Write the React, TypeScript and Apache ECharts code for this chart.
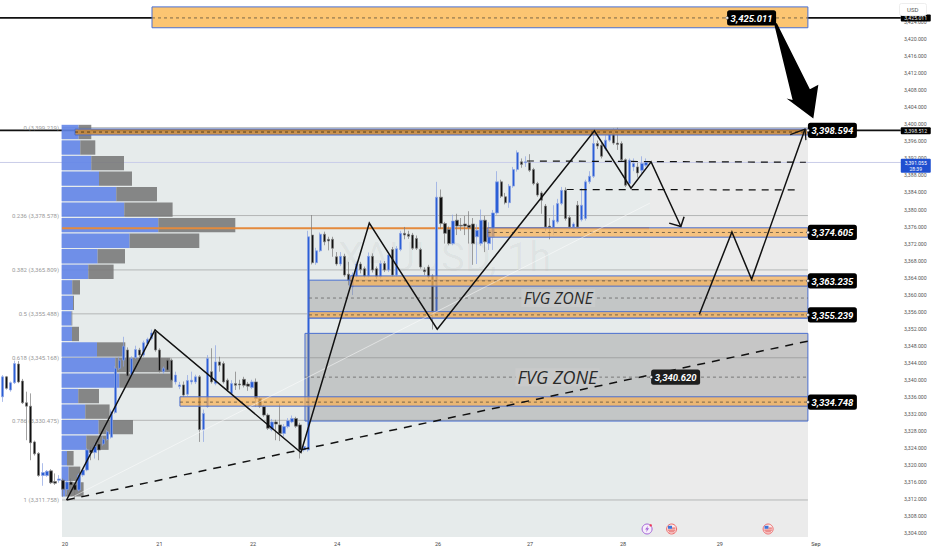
import React, { useEffect, useRef } from "react";
import * as echarts from "echarts";

// ---- price data: [open, close, low, high], one row per hourly bar
const candleRows: number[][] = [
[3336.0,3340.7,3334.8,3341.1],[3340.7,3338.0,3337.7,3340.9],[3337.6,3339.3,3337.2,3339.6],[3339.3,3343.8,3339.0,3344.5],
[3343.7,3339.5,3339.2,3344.4],[3339.7,3334.6,3334.3,3340.2],[3334.6,3333.8,3325.8,3337.2],[3333.8,3325.2,3321.1,3336.8],
[3325.4,3322.6,3322.2,3325.7],[3322.7,3317.5,3317.2,3323.0],[3317.5,3318.2,3315.1,3320.4],[3317.5,3318.5,3317.2,3318.8],
[3318.6,3315.8,3315.5,3319.0],[3316.1,3315.7,3315.3,3318.0],[3316.4,3316.7,3315.8,3317.6],[3316.4,3314.3,3312.5,3316.8],
[3314.2,3316.0,3313.0,3316.5],[3316.0,3315.3,3314.5,3316.8],[3315.3,3314.1,3311.8,3315.7],[3314.1,3317.6,3313.8,3318.0],
[3317.6,3318.8,3317.2,3319.2],[3318.8,3323.5,3318.5,3324.0],[3323.5,3322.9,3321.1,3324.3],[3322.9,3324.3,3321.5,3325.0],
[3324.9,3323.5,3321.1,3326.2],[3324.9,3326.0,3324.5,3326.7],[3326.0,3327.8,3325.7,3328.2],[3326.5,3332.5,3326.2,3333.0],
[3332.3,3342.7,3332.0,3343.2],[3342.7,3344.6,3342.3,3345.4],[3344.6,3347.9,3343.1,3350.1],[3347.0,3340.9,3340.5,3347.6],
[3341.1,3345.0,3340.7,3345.5],[3345.2,3347.1,3344.9,3348.0],[3347.0,3345.8,3345.3,3347.5],[3345.8,3348.7,3345.4,3349.2],
[3348.5,3349.5,3348.1,3349.9],[3349.7,3351.0,3349.3,3351.8],[3351.3,3347.0,3346.6,3351.9],[3347.0,3342.1,3341.7,3347.4],
[3341.9,3342.7,3341.4,3343.1],[3344.6,3342.3,3341.9,3345.0],[3344.6,3339.9,3339.5,3345.0],[3339.5,3341.1,3338.9,3341.9],
[3338.4,3338.8,3337.8,3339.5],[3338.8,3336.4,3336.0,3339.6],[3336.6,3339.8,3336.2,3341.1],[3339.5,3339.9,3338.9,3341.9],
[3339.5,3340.7,3339.0,3341.2],[3340.7,3328.3,3325.4,3341.1],[3328.3,3332.1,3325.4,3333.0],[3333.7,3345.0,3333.4,3345.8],
[3341.9,3339.5,3339.1,3347.4],[3339.1,3344.2,3338.7,3348.1],[3344.2,3343.4,3341.9,3345.4],[3343.8,3339.5,3339.1,3344.3],
[3339.9,3337.6,3337.2,3340.3],[3336.8,3339.1,3336.4,3339.9],[3339.1,3338.7,3337.6,3341.9],[3339.0,3338.8,3337.7,3340.0],
[3340.1,3338.7,3338.2,3340.7],[3339.0,3338.5,3337.4,3339.5],[3338.2,3339.5,3337.8,3340.0],[3339.5,3335.6,3333.7,3340.3],
[3335.6,3333.8,3333.4,3336.0],[3333.7,3331.7,3331.3,3334.1],[3331.7,3328.6,3328.2,3332.1],[3328.3,3330.1,3327.9,3330.8],
[3330.1,3329.6,3325.8,3330.6],[3329.4,3327.4,3325.6,3334.4],[3327.4,3329.0,3326.6,3329.6],[3329.0,3330.4,3328.6,3331.0],
[3330.1,3330.9,3329.8,3331.6],[3330.9,3329.1,3328.7,3331.3],[3329.4,3323.5,3321.5,3329.9],[3323.5,3324.3,3323.1,3324.8],
[3323.5,3373.6,3323.1,3375.0],[3374.0,3367.5,3367.1,3378.7],[3367.5,3370.3,3367.0,3371.0],[3370.3,3374.2,3370.0,3374.6],
[3374.2,3372.4,3371.6,3374.8],[3373.0,3372.6,3370.4,3373.6],[3373.0,3370.9,3368.9,3373.6],[3368.9,3367.2,3366.8,3370.0],
[3367.2,3369.0,3366.7,3370.0],[3369.0,3364.6,3364.2,3369.6],[3364.8,3363.4,3362.2,3367.7],[3361.8,3364.6,3359.9,3365.2],
[3364.4,3367.2,3364.0,3367.8],[3367.2,3365.9,3365.0,3367.7],[3366.1,3364.4,3364.0,3366.6],[3364.4,3369.0,3364.0,3369.9],
[3369.0,3365.8,3365.2,3369.7],[3366.1,3364.2,3363.7,3366.6],[3364.2,3367.3,3363.8,3368.0],[3367.3,3365.8,3365.3,3367.9],
[3365.8,3369.3,3365.3,3370.0],[3370.6,3364.6,3364.2,3371.2],[3364.6,3370.8,3364.2,3371.4],[3370.6,3374.4,3370.2,3375.0],
[3374.4,3374.0,3373.0,3375.9],[3374.2,3373.7,3373.1,3375.0],[3374.0,3370.9,3370.5,3374.5],[3373.2,3370.9,3370.5,3373.9],
[3370.6,3366.5,3366.1,3371.0],[3365.8,3365.4,3364.6,3366.4],[3366.5,3364.2,3363.8,3367.0],[3364.4,3356.0,3351.8,3364.8],
[3356.0,3382.9,3355.6,3386.5],[3382.9,3376.7,3375.5,3384.7],[3376.7,3374.4,3372.0,3377.1],[3375.3,3372.0,3371.6,3376.0],
[3372.0,3377.3,3371.6,3378.8],[3377.5,3376.1,3374.0,3379.0],[3376.3,3376.1,3375.0,3378.0],[3376.6,3376.1,3374.0,3378.5],
[3376.3,3375.8,3372.0,3379.6],[3376.6,3372.0,3367.0,3378.0],[3373.6,3375.1,3367.2,3376.5],[3372.0,3377.5,3371.5,3380.0],
[3377.5,3372.4,3370.0,3378.5],[3372.0,3375.2,3370.5,3377.0],[3373.6,3379.2,3370.5,3379.9],[3379.2,3386.5,3378.8,3389.0],
[3386.5,3383.1,3382.7,3387.0],[3383.0,3381.6,3381.2,3383.9],[3381.6,3385.5,3380.4,3386.0],[3385.5,3389.4,3385.1,3390.0],
[3389.4,3393.4,3388.9,3393.9],[3391.2,3390.6,3389.8,3392.0],[3391.0,3391.2,3390.0,3392.5],[3391.0,3389.2,3388.8,3393.0],
[3389.4,3386.1,3385.7,3389.8],[3386.1,3383.4,3383.0,3386.5],[3383.9,3382.2,3379.0,3384.3],[3380.8,3375.9,3375.0,3381.3],
[3376.1,3375.8,3373.0,3378.0],[3375.8,3377.5,3374.0,3381.0],[3377.1,3381.4,3376.7,3382.5],[3381.4,3384.5,3381.0,3385.3],
[3384.5,3377.9,3377.4,3385.2],[3378.1,3375.9,3375.4,3378.6],[3375.9,3376.6,3375.2,3377.0],[3381.0,3375.9,3375.4,3382.0],
[3377.6,3381.0,3377.2,3385.0],[3377.9,3386.5,3377.4,3387.0],[3386.5,3387.8,3386.0,3389.0],[3387.8,3395.5,3387.4,3398.0],
[3395.5,3394.9,3394.2,3396.2],[3395.1,3392.5,3392.0,3395.8],[3394.3,3396.3,3393.8,3397.4],[3396.3,3397.7,3395.9,3398.6],
[3397.8,3395.6,3395.2,3399.0],[3395.6,3395.3,3394.0,3399.2],[3395.5,3391.7,3391.3,3396.0],[3391.7,3385.7,3385.3,3392.0],
[3386.1,3391.6,3385.7,3392.0],[3390.0,3390.8,3389.0,3392.0],[3390.0,3388.6,3387.5,3391.0],[3389.2,3390.8,3388.5,3392.5],
[3390.4,3391.05,3390.0,3392.0],
];

// ---- axis ticks
const dayTickBars = [15.5, 39, 62.3, 83.2, 108.3, 131.2, 154.3, 178.4, 202.3];
const dayTickLabels = ["20", "21", "22", "24", "26", "27", "28", "29", "Sep"];

// ---- fibonacci retracement levels
const fibLevels = [3399.219, 3378.578, 3365.809, 3355.488, 3345.168, 3330.475, 3311.758];
const fibLabels = ["0 (3,399.219)", "0.236 (3,378.578)", "0.382 (3,365.809)", "0.5 (3,355.488)", "0.618 (3,345.168)", "0.786 (3,330.475)", "1 (3,311.758)"];

// ---- volume profile, top row first
const profileTop = 3399.9;
const profileStep = 3.65;
const profileUp = [17, 18.7, 29.7, 37.4, 54.7, 62.7, 96.7, 68, 36, 26.7, 10.7, 11.4, 10, 10.4, 35.4, 53.7, 57.7, 16.7, 23.7, 37, 24.7, 5.4, 7, 3.7];
const profileDown = [12.7, 15, 32.7, 33, 40.7, 48.3, 77, 69.7, 27.4, 25.3, 7.7, 1, 0.7, 7, 28.3, 55, 53.3, 20.7, 24.3, 34.4, 22.3, 6.6, 11.7, 18.3];

// ---- zones: [left bar, right bar, upper price, lower price, mid price]
const orangeZones = [
  [37.15, 200.3, 3427.6, 3422.7, 3425.011],
  [18.0, 200.3, 3398.9, 3397.5, 3398.2],
  [120.7, 200.3, 3375.7, 3373.5, 3374.605],
  [86.4, 200.3, 3364.4, 3362.0, 3363.235],
  [76.2, 200.3, 3356.0, 3354.5, 3355.239],
  [44.1, 200.3, 3336.0, 3333.8, 3334.748],
];
const fvgZones = [
  [76.2, 200.3, 3363.4, 3354.5, 3359.2],
  [75.2, 200.3, 3350.9, 3330.3, 3340.62],
];
const fvgLabelBars = [138.2, 138];
const fvgLabelSizes = [15.5, 18];

// ---- drawn lines, [bar, price]
const wavePath = [[15.9, 3311.75], [37.9, 3351.7], [74.2, 3322.9], [91.2, 3376.8], [108.1, 3351.9], [147.2, 3398.5], [156.3, 3385.0], [161.3, 3391.2], [168.7, 3376.0]];
const waveHead = [[165.8, 3376.8], [168.7, 3376.0], [169.5, 3378.3]];
const projectionPath = [[173.3, 3355.4], [181.4, 3374.7], [186.3, 3363.6], [199.6, 3398.9]];
const projectionHead = [[195.9, 3397.6], [199.6, 3398.9], [199.8, 3396.3]];
const trendDashed = [[15.9, 3311.75], [200.4, 3349.1]];
const upperDashed = [[130.4, 3391.4], [199.8, 3391.1]];
const lowerDashed = [[140.3, 3384.7], [197.1, 3384.6]];
const whiteDiagonal = [[15.9, 3311.75], [161, 3381.5]];
const orangeLine = [[14.76, 3375.6], [160.8, 3375.6]];
const bigArrow = [[191.95, 3423.4], [192.55, 3423.8], [200.8, 3408.25], [202.9, 3409.3], [201.65, 3401.4], [195, 3406.1], [196.5, 3405.7]];

// ---- badges
const badgeLeftBars = [180.2, 200.3, 200.3, 200.3, 200.3, 200.3, 161.3];
const badgePrices = [3425.011, 3398.594, 3374.605, 3363.235, 3355.239, 3334.748, 3340.62];
const badgeTexts = ["3,425.011", "3,398.594", "3,374.605", "3,363.235", "3,355.239", "3,334.748", "3,340.620"];

const lastPrice = 3391.055;
const tagPrices = [3425.011, 3398.512];
const tagTexts = ["3,425.011", "3,398.512"];
const eventBars = [160.3, 166.4, 190.4];
const eventPrice = 3304.94;
const eventKinds = ["bolt", "flag", "flag"];

const X_MIN = -0.66;
const X_MAX = 220.2;
const BG_LEFT = 14.76;
const BG_RIGHT = 200.3;
const BG_BOTTOM = 3303.06;
const TAG_LEFT = 223.4;
const FONT = "Roboto, 'Open Sans', sans-serif";

const custom = (name: string, count: number, z: number, render: (i: number, api: any) => any) => ({
  type: "custom",
  name,
  silent: true,
  clip: false,
  z,
  data: Array.from({ length: count }, (_, i) => [i]),
  encode: { x: 0 },
  renderItem: (p: any, api: any) => render(p.dataIndex, api),
});

const pts = (api: any, list: number[][]) => list.map((q) => api.coord(q));
const poly = (api: any, list: number[][], style: any) => ({
  type: "polyline",
  shape: { points: pts(api, list) },
  style: { fill: "none", ...style },
});
const rectBetween = (api: any, l: number, r: number, top: number, bot: number, style: any) => {
  const a = api.coord([l, top]);
  const b = api.coord([r, bot]);
  return { type: "rect", shape: { x: a[0], y: a[1], width: b[0] - a[0], height: b[1] - a[1] }, style };
};

const zoneStyle = (i: number) =>
  i === 1
    ? { fill: "rgba(200,138,62,0.9)", stroke: "#4a6fd0", lineWidth: 1 }
    : i === 0
    ? { fill: "#fcc572", stroke: "#4a6fd0", lineWidth: 1 }
    : { fill: "rgba(250,178,85,0.72)", stroke: "#4a6fd0", lineWidth: 1 };

export default function App() {
  const ref = useRef<HTMLDivElement>(null);
  useEffect(() => {
    document.body.style.margin = "0";
    document.body.style.background = "#fff";
    const chart = echarts.init(ref.current!, undefined, { renderer: "svg" });
    const lines = [
      { list: wavePath, style: { stroke: "#111", lineWidth: 1.5 } },
      { list: waveHead, style: { stroke: "#111", lineWidth: 1.5 } },
      { list: projectionPath, style: { stroke: "#111", lineWidth: 1.5 } },
      { list: projectionHead, style: { stroke: "#111", lineWidth: 1.2 } },
      { list: trendDashed, style: { stroke: "#111", lineWidth: 1.5, lineDash: [8, 7] } },
      { list: upperDashed, style: { stroke: "#111", lineWidth: 1.2, lineDash: [7, 6] } },
      { list: lowerDashed, style: { stroke: "#111", lineWidth: 1.2, lineDash: [7, 6] } },
    ];
    chart.setOption({
      animation: false,
      backgroundColor: "#fff",
      grid: { left: 0, width: 887.9, top: 5.2, height: 527.8, containLabel: false },
      xAxis: {
        type: "value",
        min: X_MIN,
        max: X_MAX,
        splitLine: { show: false },
        axisLine: { show: false },
        axisTick: { show: false },
        axisLabel: {
          customValues: dayTickBars,
          formatter: (v: number) => dayTickLabels[dayTickBars.indexOf(v)] ?? "",
          fontSize: 5.5,
          color: "#444",
          fontFamily: FONT,
          margin: 7.5,
        },
      },
      yAxis: {
        type: "value",
        position: "right",
        min: 3304,
        max: 3428,
        interval: 4,
        scale: true,
        splitLine: { show: false },
        axisLine: { show: false },
        axisTick: { show: false },
        axisLabel: {
          showMaxLabel: false,
          formatter: (v: number) => v.toLocaleString("en-US", { minimumFractionDigits: 3, maximumFractionDigits: 3 }),
          fontSize: 5.2,
          color: "#555",
          fontFamily: FONT,
          margin: 16,
        },
      },
      series: [
        custom("background", 1, 1, (_i, api) =>
          rectBetween(api, BG_LEFT, BG_RIGHT, fibLevels[0], BG_BOTTOM, { fill: "#e6ebeb" })
        ),
        custom("backgroundFuture", 1, 1, (_i, api) =>
          rectBetween(api, 161, BG_RIGHT, fibLevels[0], BG_BOTTOM, { fill: "#ebebeb" })
        ),
        custom("watermark", 1, 2, (_i, api) => {
          const c = api.coord([110, 3368.8]);
          return {
            type: "text",
            style: { x: c[0], y: c[1], text: "XAUUSD, 1h", fill: "rgba(0,0,0,0.04)", fontSize: 40, fontFamily: FONT, align: "center", verticalAlign: "middle" },
          };
        }),
        custom("priceLines", 3, 2, (i, api) => {
          const price = [tagPrices[0], badgePrices[1], lastPrice][i];
          return poly(api, [[X_MIN, price], [TAG_LEFT, price]], {
            stroke: i === 2 ? "#c9cce8" : "#111",
            lineWidth: i === 2 ? 1 : 1.6,
          });
        }),
        custom("fibLines", fibLevels.length, 3, (i, api) => poly(api, [[BG_LEFT, fibLevels[i]], [BG_RIGHT, fibLevels[i]]], { stroke: "#b4b6b6", lineWidth: 1 })),
        custom("fibLabels", fibLevels.length, 3, (i, api) => {
          const c = api.coord([BG_LEFT, fibLevels[i]]);
          return {
            type: "text",
            style: { x: c[0] - 3, y: c[1], text: fibLabels[i], fill: "#9a9a9a", fontSize: 6, fontFamily: FONT, align: "right", verticalAlign: "middle" },
          };
        }),
        custom("volumeProfile", profileUp.length, 4, (i, api) => {
          const scale = 1 / 4.02;
          const top = profileTop - i * profileStep;
          const bot = top - profileStep + 0.28;
          const a = BG_LEFT - 0.1 + profileUp[i] * scale;
          const b = a + profileDown[i] * scale;
          return {
            type: "group",
            children: [
              rectBetween(api, BG_LEFT - 0.1, a, top, bot, { fill: "rgba(98,133,232,0.9)" }),
              rectBetween(api, a, b, top, bot, { fill: "rgba(120,120,120,0.88)" }),
            ],
          };
        }),
        custom("orangeLine", 1, 5, (_i, api) => poly(api, orangeLine, { stroke: "#e48a3c", lineWidth: 2 })),
        {
          type: "candlestick",
          name: "XAUUSD",
          z: 6,
          silent: true,
          barWidth: 2.8,
          data: candleRows.map((r, i) => [i, ...r]),
          encode: { x: 0, y: [1, 2, 3, 4] },
          itemStyle: { color: "#2b5fd6", color0: "#111", borderColor: "#8aa2e2", borderColor0: "#7a7a7a", borderWidth: 0.7 },
        },
        custom("fvgZones", fvgZones.length, 7, (i, api) => {
          const z = fvgZones[i];
          const mid = poly(api, [[z[0], z[4]], [z[1], z[4]]], { stroke: "#666", lineWidth: 0.8, lineDash: [3, 3] });
          const c = api.coord([fvgLabelBars[i], z[4]]);
          return {
            type: "group",
            children: [
              rectBetween(api, z[0], z[1], z[2], z[3], { fill: "rgba(125,125,125,0.33)", stroke: "#4a6fd0", lineWidth: 1 }),
              mid,
              {
                type: "rect",
                shape: { x: c[0] - (i ? 42 : 37), y: c[1] - 9, width: i ? 84 : 74, height: 18 },
                style: { fill: i ? "#c9caca" : "#c9cbcb" },
              },
              {
                type: "text",
                style: { x: c[0], y: c[1], text: "FVG ZONE", fill: "#2a2a2a", fontSize: fvgLabelSizes[i], fontStyle: "italic", fontFamily: "'Open Sans', sans-serif", align: "center", verticalAlign: "middle" },
              },
            ],
          };
        }),
        custom("orangeZones", orangeZones.length, 8, (i, api) => {
          const z = orangeZones[i];
          return {
            type: "group",
            children: [
              rectBetween(api, z[0], z[1], z[2], z[3], zoneStyle(i)),
              poly(api, [[z[0], z[4]], [z[1], z[4]]], { stroke: i === 1 ? "#3a2a10" : "#5b5040", lineWidth: 0.8, lineDash: [3, 3] }),
            ],
          };
        }),
        custom("whiteDiagonal", 1, 9, (_i, api) => poly(api, whiteDiagonal, { stroke: "rgba(255,255,255,0.7)", lineWidth: 0.7 })),
        custom("drawings", lines.length, 10, (i, api) => poly(api, lines[i].list, lines[i].style)),
        custom("bigArrow", 1, 11, (_i, api) => ({ type: "polygon", shape: { points: pts(api, bigArrow) }, style: { fill: "#000" } })),
        custom("badges", badgeTexts.length, 12, (i, api) => {
          const c = api.coord([badgeLeftBars[i], badgePrices[i]]);
          return {
            type: "group",
            children: [
              { type: "rect", shape: { x: c[0], y: c[1] - 7.6, width: 49, height: 15.2, r: 2.5 }, style: { fill: i === 6 ? "#1e1e1e" : "#000" } },
              { type: "circle", shape: { cx: c[0], cy: c[1], r: 1.4 }, style: { fill: "#fff", stroke: "#444", lineWidth: 0.6 } },
              {
                type: "text",
                style: { x: c[0] + 24.5, y: c[1] + 0.3, text: badgeTexts[i], fill: "#fff", fontSize: 9.5, fontWeight: "bold", fontStyle: "italic", fontFamily: FONT, align: "center", verticalAlign: "middle" },
              },
            ],
          };
        }),
        custom("axisTags", tagTexts.length, 12, (i, api) => {
          const c = api.coord([TAG_LEFT, tagPrices[i]]);
          return {
            type: "group",
            children: [
              { type: "rect", shape: { x: c[0], y: c[1] - 3.5, width: 30, height: 7, r: 1 }, style: { fill: "#000" } },
              { type: "text", style: { x: c[0] + 15, y: c[1], text: tagTexts[i], fill: "#eee", fontSize: 5.2, fontFamily: FONT, align: "center", verticalAlign: "middle" } },
            ],
          };
        }),
        custom("lastTag", 1, 12, (_i, api) => {
          const c = api.coord([TAG_LEFT, lastPrice]);
          return {
            type: "group",
            children: [
              { type: "rect", shape: { x: c[0], y: c[1] - 3.8, width: 30, height: 14, r: 1 }, style: { fill: "#1f4fd0" } },
              { type: "text", style: { x: c[0] + 15, y: c[1] + 3.2, text: "3,391.055\n28:39", fill: "#fff", fontSize: 5, lineHeight: 6.2, fontFamily: FONT, align: "center", verticalAlign: "middle" } },
            ],
          };
        }),
        custom("events", eventBars.length, 12, (i, api) => {
          const c = api.coord([eventBars[i], eventPrice]);
          const [x, y] = c;
          if (eventKinds[i] === "bolt") {
            return {
              type: "group",
              children: [
                { type: "circle", shape: { cx: x, cy: y, r: 5 }, style: { fill: "#f6eefb", stroke: "#a463d8", lineWidth: 1 } },
                { type: "polygon", shape: { points: [[x + 1, y - 3.2], [x - 2, y + 0.6], [x - 0.2, y + 0.6], [x - 1, y + 3.2], [x + 2, y - 0.8], [x + 0.2, y - 0.8]] }, style: { fill: "#a463d8" } },
                { type: "circle", shape: { cx: x + 3.6, cy: y - 3.6, r: 1.2 }, style: { fill: "#ee3355" } },
              ],
            };
          }
          return {
            type: "group",
            children: [
              { type: "circle", shape: { cx: x, cy: y, r: 5 }, style: { fill: "#fbe9e9", stroke: "#ee6a6a", lineWidth: 1 } },
              { type: "rect", shape: { x: x - 3.6, y: y - 3.2, width: 4, height: 3 }, style: { fill: "#3d74d8" } },
              { type: "rect", shape: { x: x + 0.4, y: y - 1.4, width: 3.4, height: 1 }, style: { fill: "#e25050" } },
              { type: "rect", shape: { x: x - 3.8, y: y + 0.6, width: 7.6, height: 1 }, style: { fill: "#e25050" } },
              { type: "rect", shape: { x: x - 2.8, y: y + 2.4, width: 5.6, height: 0.9 }, style: { fill: "#e25050" } },
            ],
          };
        }),
      ],
      graphic: [
        { type: "rect", left: 899, top: 3, shape: { width: 27, height: 12, r: 2 }, style: { fill: "#fff", stroke: "#eee", lineWidth: 1 }, z: 20 },
        { type: "text", left: 907, top: 6, style: { text: "USD", fill: "#555", fontSize: 6, fontFamily: FONT }, z: 21 },
      ],
    });
    return () => chart.dispose();
  }, []);
  return <div ref={ref} style={{ width: 932, height: 550 }} />;
}
